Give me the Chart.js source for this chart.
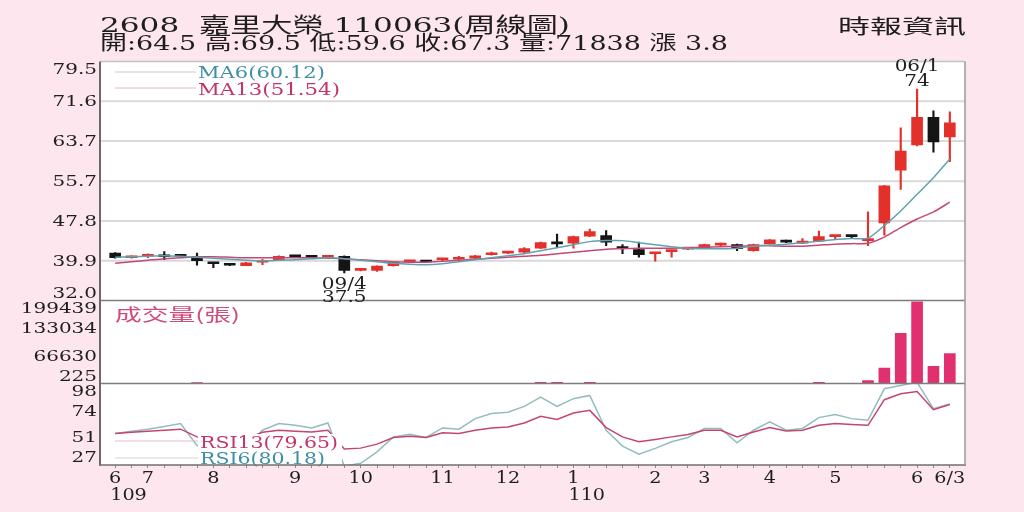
<!DOCTYPE html>
<html><head><meta charset="utf-8">
<script src="https://cdn.jsdelivr.net/npm/chart.js@4.4.1/dist/chart.umd.min.js"></script>
<style>
html,body{margin:0;padding:0;background:#fde6ee;}
#wrap{position:relative;width:1024px;height:512px;overflow:hidden;background:#fde6ee;}
canvas{position:absolute;left:0;top:0;}
</style></head><body>
<div id="wrap">
<canvas id="cPrice" width="1024" height="512"></canvas>
<canvas id="cVol" width="1024" height="512"></canvas>
<canvas id="cRsi" width="1024" height="512"></canvas>
</div>
<script>
// ---------- DATA ----------
const weeks = ['109/06/05','109/06/12','109/06/19','109/06/26','109/07/03','109/07/10','109/07/17','109/07/24','109/07/31','109/08/07','109/08/14','109/08/21','109/08/28','109/09/04','109/09/11','109/09/18','109/09/25','109/10/01','109/10/08','109/10/16','109/10/23','109/10/30','109/11/06','109/11/13','109/11/20','109/11/27','109/12/04','109/12/11','109/12/18','109/12/25','109/12/31','110/01/08','110/01/15','110/01/22','110/01/29','110/02/05','110/02/19','110/02/26','110/03/05','110/03/12','110/03/19','110/03/26','110/04/01','110/04/09','110/04/16','110/04/23','110/04/30','110/05/07','110/05/14','110/05/21','110/05/28','110/06/03'];
const opens  = [41.4,40.5,40.8,41.1,40.9,40.8,39.6,39.2,38.9,39.6,40.0,40.8,40.7,40.6,40.8,38.0,38.0,38.9,39.7,39.75,40.1,40.2,40.4,41.1,41.4,41.6,42.4,43.45,43.4,44.8,44.9,42.6,42.1,41.3,41.7,42.2,42.5,43.0,43.1,41.9,43.25,43.9,43.4,43.8,44.7,44.9,43.9,47.4,57.9,62.9,68.4,64.5];
const highs  = [41.5,40.9,41.3,41.7,41.0,41.4,39.6,39.3,39.6,40.2,40.9,41.0,40.9,41.0,40.9,38.2,38.9,39.7,40.0,39.9,40.4,40.8,41.0,41.6,41.6,42.5,43.6,45.2,44.8,46.2,45.9,43.1,43.6,41.5,41.9,42.5,43.2,43.4,43.2,43.2,44.1,44.0,44.3,45.8,44.9,44.9,49.6,54.9,66.3,74.0,69.7,69.5];
const lows   = [40.4,40.4,40.5,40.1,40.6,39.0,38.5,38.9,38.9,39.1,40.0,40.6,40.5,40.5,37.5,37.9,37.8,38.8,39.6,39.5,39.9,40.1,40.3,41.0,41.3,41.5,42.3,42.6,42.4,44.7,42.9,41.3,40.6,39.8,40.6,42.1,42.4,42.9,41.9,41.8,43.2,43.5,43.3,43.7,44.3,44.3,42.9,45.0,54.1,62.7,61.5,59.6];
const closes = [40.5,40.8,40.9,40.7,40.8,39.9,39.3,39.0,39.5,39.8,40.8,40.7,40.6,40.9,38.0,38.1,38.85,39.6,39.8,39.65,40.2,40.3,40.9,41.4,41.5,42.3,43.5,43.25,44.7,45.7,43.6,42.3,41.1,41.5,41.9,42.4,43.1,43.1,42.3,43.1,44.05,43.6,43.65,44.7,44.9,44.7,44.1,54.8,61.7,68.4,63.5,67.3];
const ma6  = [40.6,40.7,40.8,40.9,40.8,40.6,40.4,40.2,40.0,39.9,40.0,40.1,40.3,40.5,40.3,40.0,39.7,39.4,39.2,39.1,39.3,39.7,40.1,40.5,40.9,41.3,41.9,42.5,43.1,43.7,43.9,43.9,43.5,43.1,42.7,42.4,42.3,42.3,42.4,42.8,43.0,43.2,43.5,43.8,44.1,44.3,44.4,46.9,49.8,53.1,56.4,60.12];
const ma13 = [39.4,39.7,40.0,40.3,40.5,40.7,40.7,40.6,40.5,40.5,40.5,40.5,40.5,40.4,40.3,40.1,39.9,39.7,39.6,39.6,39.8,40.0,40.2,40.4,40.6,40.8,41.0,41.3,41.6,41.9,42.2,42.3,42.4,42.4,42.4,42.5,42.6,42.7,42.8,42.9,42.9,42.8,42.8,43.0,43.2,43.3,43.4,44.6,46.5,48.2,49.6,51.54];
const volumes = [520,480,450,500,470,2600,560,470,430,500,540,430,470,510,620,500,470,430,390,430,470,430,500,470,430,540,3100,2900,560,3000,620,540,500,430,390,430,470,430,500,470,430,500,540,2800,560,640,7300,37200,120700,196500,41300,71838];
const rsi6  = [54.5,56.5,58.2,60.5,63.1,44,40,38,42,57.3,63.1,61.6,59.3,63.6,26,28.5,38.5,51.5,53.8,51,59.3,58.2,67.4,71.8,72.9,78.1,86.1,78.1,84.8,87.6,57.3,43.5,36.5,41.5,47.2,51,58.8,58.8,46.3,57.3,64.5,57.3,58.8,68.3,70.9,67.4,66,93.4,96.3,99,76.1,80.18];
const rsi13 = [54.5,55.5,56.4,57.3,58.2,51.5,49,48,50,55.5,57.3,56.4,55.8,57.3,40.9,41.7,45.2,51,52.1,51,55,54.5,57.3,59.3,60.2,63.6,69.4,66.6,72.3,74.6,59.6,51.5,47.2,49.3,51.5,53.6,57.3,57.3,51.5,55.8,59.6,56.7,57.3,61.6,63.1,62.2,61.6,83.9,89.1,91,75.2,79.65];
const priceTicks = [32.0,39.9,47.8,55.7,63.7,71.6,79.5];
const volTicks = [225,66630,133034,199439];
const rsiTicks = [27,51,74,98];
const xTickIdx = [0,2,6,11,15,20,24,28,33,36,40,44,49,51];
const xTickTxt = ['6','7','8','9','10','11','12','1','2','3','4','5','6','6/3'];
const yearIdx = [0,28];
const yearTxt = ['109','110'];
const headerTitle = '2608  嘉里大榮 110063(周線圖)';
const headerQuote = '開:64.5 高:69.5 低:59.6 收:67.3 量:71838 漲 3.8';
const headerSource = '時報資訊';
const lowNote = ['09/4','37.5']; const lowNoteIdx = 14; const lowNoteVal = 37.5;
const highNote = ['06/1','74']; const highNoteIdx = 49; const highNoteVal = 74;

// ---------- STYLE ----------
const UP = '#e3302a', DOWN = '#151515';
const PL = 100, PR = 965;
const SERIF = '"DejaVu Serif","Noto Sans CJK TC",serif';
const candleColors = opens.map((o,i) => closes[i] >= o ? UP : DOWN);

function drawText(ctx, txt, x, y, o) {
  ctx.save();
  ctx.font = o.font;
  ctx.fillStyle = o.color || '#222';
  ctx.textBaseline = o.baseline || 'alphabetic';
  ctx.textAlign = 'left';
  const w = ctx.measureText(txt).width;
  const sx = o.width ? o.width / w : (o.sx || 1);
  let x0 = x;
  if (o.align === 'right') x0 = x - w * sx;
  else if (o.align === 'center') x0 = x - w * sx / 2;
  ctx.translate(x0, y);
  ctx.scale(sx, 1);
  ctx.fillText(txt, 0, 0);
  ctx.restore();
}
function panelFill(chart, top, bottom) {
  const ctx = chart.ctx;
  ctx.save(); ctx.fillStyle = '#ffffff';
  ctx.fillRect(PL, top, PR - PL, bottom - top);
  ctx.restore();
}
function hline(ctx, x1, x2, y, color, w) {
  ctx.save(); ctx.strokeStyle = color; ctx.lineWidth = w;
  ctx.beginPath(); ctx.moveTo(x1, y); ctx.lineTo(x2, y); ctx.stroke(); ctx.restore();
}
function vline(ctx, x, y1, y2, color, w) {
  ctx.save(); ctx.strokeStyle = color; ctx.lineWidth = w;
  ctx.beginPath(); ctx.moveTo(x, y1); ctx.lineTo(x, y2); ctx.stroke(); ctx.restore();
}
function yLabels(ctx, scale, ticks, fmt) {
  const top = scale.top, bot = scale.bottom, m = 7.5;
  ticks.forEach(v => {
    let y = scale.getPixelForValue(v);
    y = Math.max(top + m, Math.min(bot - m, y));
    drawText(ctx, fmt(v), 97, y + 1, {font: '15px ' + SERIF, align: 'right', sx: 1.33, baseline: 'middle', color: '#1e1e1e'});
  });
}
const commonX = {type: 'category', offset: true};
const fixedW = s => { s.width = 107; };
const base = {
  responsive: false, animation: false, devicePixelRatio: 1, events: [],
  plugins: {legend: {display: false}, tooltip: {enabled: false}}
};

// ---------- PRICE ----------
const priceChart = new Chart(document.getElementById('cPrice'), {
  type: 'bar',
  data: {labels: weeks, datasets: [
    {type: 'line', data: ma6, borderColor: '#5fa2b0', borderWidth: 1.5, pointRadius: 0, tension: 0.25},
    {type: 'line', data: ma13, borderColor: '#c44876', borderWidth: 1.5, pointRadius: 0, tension: 0.25},
    {type: 'bar', data: opens.map((o,i) => [o, closes[i]]), backgroundColor: candleColors, barThickness: 11, minBarLength: 2, grouped: false},
    {type: 'bar', data: lows.map((l,i) => [l, highs[i]]), backgroundColor: candleColors, barThickness: 1.5, grouped: false}
  ]},
  options: Object.assign({}, base, {
    layout: {padding: {left: 0, right: 66, top: 61.5, bottom: 211.5}},
    scales: {
      x: Object.assign({display: false}, commonX),
      y: {min: 32, max: 79.5, ticks: {display: false}, grid: {display: false}, border: {display: false},
          afterFit: fixedW, afterBuildTicks: s => { s.ticks = priceTicks.map(v => ({value: v})); }}
    }
  }),
  plugins: [{
    id: 'pricePanel',
    beforeDraw(c) { panelFill(c, 61.5, 300.5); },
    beforeDatasetsDraw(c) {
      const y = c.scales.y;
      priceTicks.slice(1, -1).forEach(v => hline(c.ctx, PL, PR, y.getPixelForValue(v), '#d9d9d9', 2));
    }
  }]
});

// ---------- VOLUME ----------
const volChart = new Chart(document.getElementById('cVol'), {
  type: 'bar',
  data: {labels: weeks, datasets: [
    {data: volumes, backgroundColor: '#e1306f', barThickness: 11}
  ]},
  options: Object.assign({}, base, {
    layout: {padding: {left: 0, right: 66, top: 300.5, bottom: 128.5}},
    scales: {
      x: Object.assign({display: false}, commonX),
      y: {min: 225, max: 199439, ticks: {display: false}, grid: {display: false}, border: {display: false},
          afterFit: fixedW, afterBuildTicks: s => { s.ticks = volTicks.map(v => ({value: v})); }}
    }
  }),
  plugins: [{ id: 'volPanel', beforeDraw(c) { panelFill(c, 300.5, 383.5); } }]
});

// ---------- RSI ----------
const rsiChart = new Chart(document.getElementById('cRsi'), {
  type: 'line',
  data: {labels: weeks, datasets: [
    {data: rsi13, borderColor: '#c4466f', borderWidth: 1.5, pointRadius: 0, tension: 0},
    {data: rsi6, borderColor: '#93bcbd', borderWidth: 1.5, pointRadius: 0, tension: 0}
  ]},
  options: Object.assign({}, base, {
    layout: {padding: {left: 0, right: 66, top: 383.5, bottom: 0}},
    scales: {
      x: Object.assign({display: true, ticks: {display: false},
          grid: {drawOnChartArea: false, drawTicks: true, tickLength: 3, offset: false, color: '#8a8a8a', lineWidth: 1},
          border: {display: false}, afterFit: s => { s.height = 47; }}, commonX),
      y: {min: 27, max: 98, ticks: {display: false}, grid: {display: false}, border: {display: false},
          afterFit: fixedW, afterBuildTicks: s => { s.ticks = rsiTicks.map(v => ({value: v})); }}
    }
  }),
  plugins: [{
    id: 'rsiPanel',
    beforeDraw(c) { panelFill(c, 383.5, 465); },
    afterDraw(c) {
      const ctx = c.ctx;
      // RSI legend with white box
      ctx.save(); ctx.fillStyle = '#fff'; ctx.fillRect(198, 434, 144, 30); ctx.restore();
      hline(ctx, 115, 198, 441, '#e6bccb', 1);
      hline(ctx, 115, 198, 458, '#cdd6d6', 1);
      drawText(ctx, 'RSI13(79.65)', 200, 448, {font: '16px ' + SERIF, width: 138, color: '#c4346a'});
      drawText(ctx, 'RSI6(80.18)', 200, 464, {font: '16px ' + SERIF, width: 125, color: '#3f8fa5'});

      // panel borders
      hline(ctx, PL, PR, 61.5, '#c4c4c4', 1.5);
      hline(ctx, PL, PR, 300.5, '#7d7d7d', 1.5);
      hline(ctx, PL, PR, 383.5, '#7d7d7d', 1.5);
      hline(ctx, PL - 1, PR + 1, 465, '#6f6f6f', 1.5);
      vline(ctx, PR, 61.5, 465, '#9a9a9a', 1.5);
      vline(ctx, PL, 61.5, 465.5, '#6a6a6a', 2);

      // y tick labels
      yLabels(ctx, priceChart.scales.y, priceTicks, v => v.toFixed(1));
      yLabels(ctx, volChart.scales.y, volTicks, v => String(v));
      yLabels(ctx, c.scales.y, rsiTicks, v => String(v));

      // x labels
      const xs = c.scales.x;
      xTickIdx.forEach((idx, k) => {
        drawText(ctx, xTickTxt[k], xs.getPixelForValue(idx), 483, {font: '16px ' + SERIF, align: 'center', sx: 1.2, color: '#1e1e1e'});
      });
      yearIdx.forEach((idx, k) => {
        drawText(ctx, yearTxt[k], xs.getPixelForValue(idx) - 5, 500, {font: '16px ' + SERIF, sx: 1.2, color: '#1e1e1e'});
      });

      // header
      drawText(ctx, headerTitle, 100, 32, {font: '21px ' + SERIF, width: 470, color: '#1e1e1e'});
      drawText(ctx, headerQuote, 100, 50, {font: '20px ' + SERIF, width: 628, color: '#1e1e1e'});
      drawText(ctx, headerSource, 838, 34, {font: '20px "Noto Sans CJK TC",sans-serif', width: 128, color: '#1e1e1e'});

      // MA legend
      hline(ctx, 115, 196, 72, '#c9c9c9', 1);
      hline(ctx, 115, 196, 88, '#e2b6c6', 1);
      drawText(ctx, 'MA6(60.12)', 198, 78, {font: '16px ' + SERIF, width: 127, color: '#3f8fa5'});
      drawText(ctx, 'MA13(51.54)', 198, 95, {font: '16px ' + SERIF, width: 142, color: '#c4346a'});

      // volume title
      drawText(ctx, '成交量(張)', 115, 321, {font: '17px "Noto Sans CJK TC",sans-serif', width: 125, color: '#d04a7a'});

      // high / low notes
      const px = priceChart.scales.x, py = priceChart.scales.y;
      const lx = px.getPixelForValue(lowNoteIdx), ly = py.getPixelForValue(lowNoteVal);
      drawText(ctx, lowNote[0], lx, ly + 16, {font: '16px ' + SERIF, align: 'center', sx: 1.25, color: '#1e1e1e'});
      drawText(ctx, lowNote[1], lx, ly + 29, {font: '16px ' + SERIF, align: 'center', sx: 1.25, color: '#1e1e1e'});
      const hx = px.getPixelForValue(highNoteIdx), hy = py.getPixelForValue(highNoteVal);
      drawText(ctx, highNote[0], hx, hy - 18, {font: '16px ' + SERIF, align: 'center', sx: 1.25, color: '#1e1e1e'});
      drawText(ctx, highNote[1], hx, hy - 3, {font: '16px ' + SERIF, align: 'center', sx: 1.25, color: '#1e1e1e'});
    }
  }]
});
</script>
</body></html>
